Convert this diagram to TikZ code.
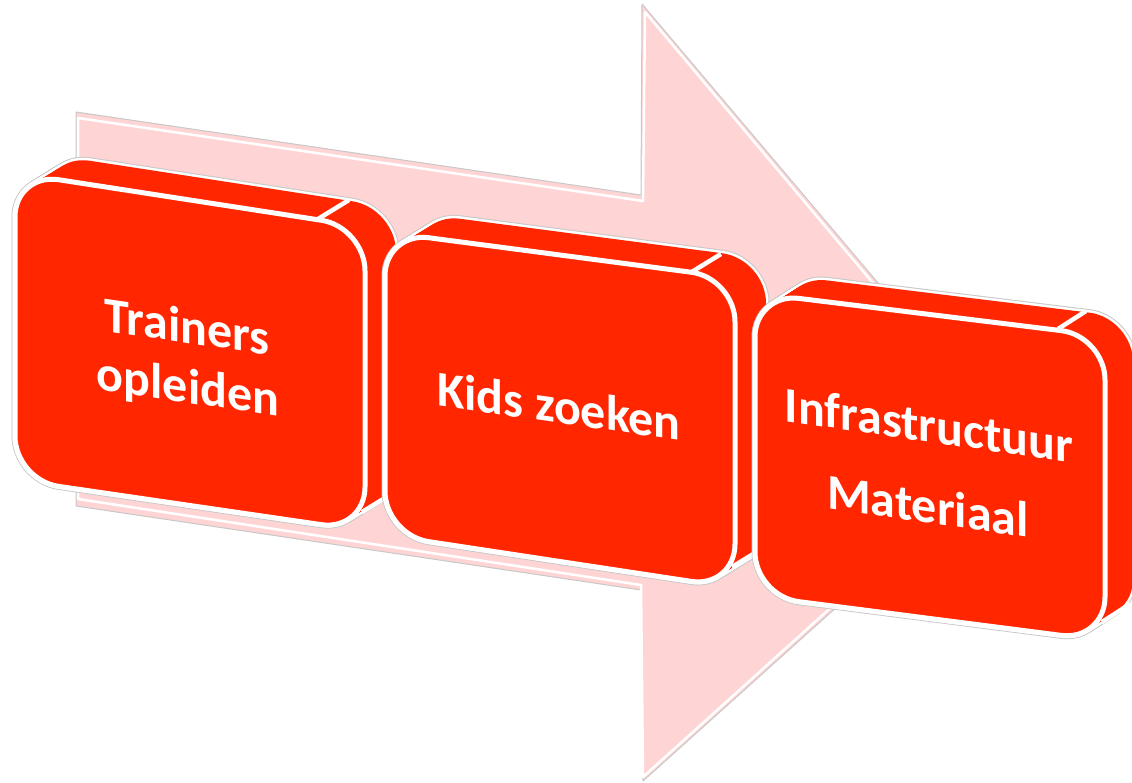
\documentclass[tikz,border=0pt]{standalone}
\usepackage{fontspec}
\setmainfont{Carlito}
\usetikzlibrary{calc}
\definecolor{boxred}{RGB}{255,38,0}
\definecolor{arrowpink}{RGB}{255,212,212}
\definecolor{edgegray}{RGB}{200,200,200}
% rounded quadrilateral path, started in the middle of the left edge
\newcommand\rquad[8]{({(#1+#7)/2},{(#2+#8)/2}) -- (#1,#2) -- (#3,#4) -- (#5,#6) -- (#7,#8) -- cycle}
% extruded red box: front face corners TL, TR, BR, BL; depth vector (\bdx,\bdy)
\newcommand\boxsweep[8]{%
  \foreach \k in {0,...,20}{\draw[edgegray,line width=7pt,rounded corners=44pt,shift={({\k*\bdx/20},{\k*\bdy/20})}] \rquad{#1}{#2}{#3}{#4}{#5}{#6}{#7}{#8};}%
  \foreach \k in {0,...,20}{\draw[white,line width=5pt,rounded corners=44pt,shift={({\k*\bdx/20},{\k*\bdy/20})}] \rquad{#1}{#2}{#3}{#4}{#5}{#6}{#7}{#8};}%
  \foreach \k in {0,...,20}{\fill[boxred,rounded corners=44pt,shift={({\k*\bdx/20},{\k*\bdy/20})}] \rquad{#1}{#2}{#3}{#4}{#5}{#6}{#7}{#8};}%
  \draw[white,line width=5pt,fill=boxred,rounded corners=44pt] \rquad{#1}{#2}{#3}{#4}{#5}{#6}{#7}{#8};%
}
\begin{document}
\begin{tikzpicture}[x=1pt,y=-1pt,
  lbl/.style={text=white,font=\fontsize{50}{60}\selectfont\bfseries,anchor=base,inner sep=0pt,yslant=-0.145},
  divider/.style={white,line width=4.5pt}]
\useasboundingbox (0,0) rectangle (1132,782);
\fill[white] (0,0) rectangle (1132,782);
\clip (0,0) rectangle (1132,782);

% background arrow
\draw[edgegray,line width=1pt,fill=arrowpink,line join=round]
  (76,112) -- (641,195) -- (642,4) -- (1016,446) -- (643,781) -- (641,590) -- (76,506) -- cycle;
\draw[white,line width=2.5pt,line join=round]
  (78,118) -- (643,201) -- (645,12) -- (1010,446) -- (643,777) -- (641,585) -- (78,499) -- cycle;

% box 1
\def\bdx{31}\def\bdy{-19}
\boxsweep{15}{173}{365}{227}{365}{531}{15}{480}
\coordinate (b1p) at (318,219);
\coordinate (b1q) at (349,200);
\coordinate (b1r) at (362,512);
\coordinate (b1s) at (393,493);
\draw[divider] (b1p) -- (b1q);
\draw[divider] (b1r) -- (b1s);
\node[lbl] (t1a) at (187,343) {Trainers};
\node[lbl] (t1b) at (188,403) {opleiden};

% box 2
\def\bdx{31}\def\bdy{-19}
\boxsweep{385}{232}{735}{278}{735}{588}{385}{535}
\coordinate (b2p) at (690,273);
\coordinate (b2q) at (721,254);
\coordinate (b2r) at (732,567);
\coordinate (b2s) at (763,548);
\draw[divider] (b2p) -- (b2q);
\draw[divider] (b2r) -- (b2s);
\node[lbl] (t2) at (559,423) {Kids zoeken};

% box 3
\def\bdx{28}\def\bdy{-18}
\boxsweep{755}{293}{1105}{336}{1105}{641}{755}{596}
\coordinate (b3p) at (1058,329);
\coordinate (b3q) at (1086,311);
\coordinate (b3r) at (1102,622);
\coordinate (b3s) at (1130,604);
\draw[divider] (b3p) -- (b3q);
\draw[divider] (b3r) -- (b3s);
\node[lbl] (t3a) at (929,442) {Infrastructuur};
\node[lbl] (t3b) at (928,523) {Materiaal};
\end{tikzpicture}
\end{document}
